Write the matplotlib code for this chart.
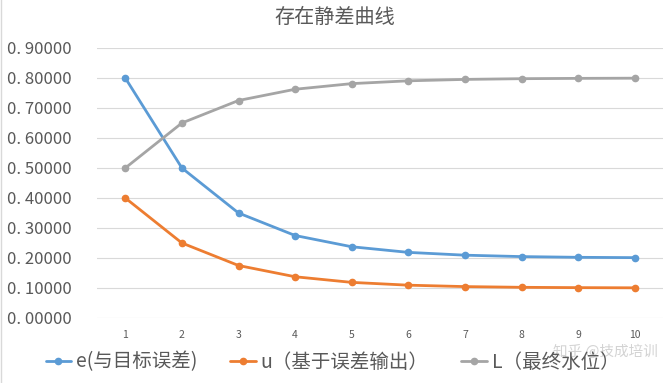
import matplotlib
matplotlib.use("Agg")
import matplotlib.pyplot as plt
from matplotlib.ticker import FixedLocator

plt.rcParams['font.family'] = ['Noto Sans CJK SC', 'DejaVu Sans']

steps = [1, 2, 3, 4, 5, 6, 7, 8, 9, 10]
e_vals = [0.8, 0.5, 0.35, 0.275, 0.2375, 0.21875, 0.2094, 0.2047, 0.2023, 0.2012]
u_vals = [0.4, 0.25, 0.175, 0.1375, 0.11875, 0.1094, 0.1047, 0.1023, 0.1012, 0.1006]
L_vals = [0.5, 0.65, 0.725, 0.7625, 0.78125, 0.7906, 0.7953, 0.7977, 0.7988, 0.7994]
series_names = ["e(与目标误差)", "u（基于误差输出）", "L（最终水位）"]
colors = ["#5B9BD5", "#ED7D31", "#A5A5A5"]
yticks = [0.0, 0.1, 0.2, 0.3, 0.4, 0.5, 0.6, 0.7, 0.8, 0.9]
title = "存在静差曲线"

fig = plt.figure(figsize=(6.69, 3.83), dpi=100)
ax = fig.add_axes([97/669, 1-318/383, (663-97)/669, (318-48)/383])

lines = []
for vals, name, c in zip([e_vals, u_vals, L_vals], series_names, colors):
    ln, = ax.plot(steps, vals, color=c, lw=2.0, marker='o', markersize=4.5,
                  label=name, solid_capstyle='round', zorder=3)
    lines.append(ln)

ax.set_xlim(0.5, 10.5)
ax.set_ylim(0, 0.9)
ax.yaxis.set_major_locator(FixedLocator(yticks))
ax.set_yticklabels([f"{v:.5f}".replace(".", ". ") for v in yticks])
ax.set_xticks(steps)
ax.set_xticklabels([str(s) for s in steps])
ax.grid(axis='y', color='#D9D9D9', lw=0.8)
ax.set_axisbelow(True)
for s in ax.spines.values():
    s.set_visible(False)
ax.tick_params(axis='both', length=0, colors='#595959')
ax.tick_params(axis='y', labelsize=12, pad=18)
ax.tick_params(axis='x', labelsize=7.5, pad=9)

fig.text(0.5, 1-17/383, title, ha='center', va='center', fontsize=14.5, color='#595959')

leg = fig.legend(handles=lines, loc='center', bbox_to_anchor=(0.497, 1-362/383), ncol=3,
                 frameon=False, fontsize=14, handlelength=1.3, columnspacing=1.7,
                 handletextpad=0.25, labelcolor='#595959', borderpad=0, borderaxespad=0)

fig.text(658/669, 1-352/383, "知乎 @技成培训", ha='right', va='center', fontsize=10.5,
         color='#CCCCCC', alpha=0.85)

fig.add_artist(plt.Line2D([0.001, 0.001], [0, 1], color='#D9D9D9', lw=1))

fig.savefig("out.png", dpi=100)
